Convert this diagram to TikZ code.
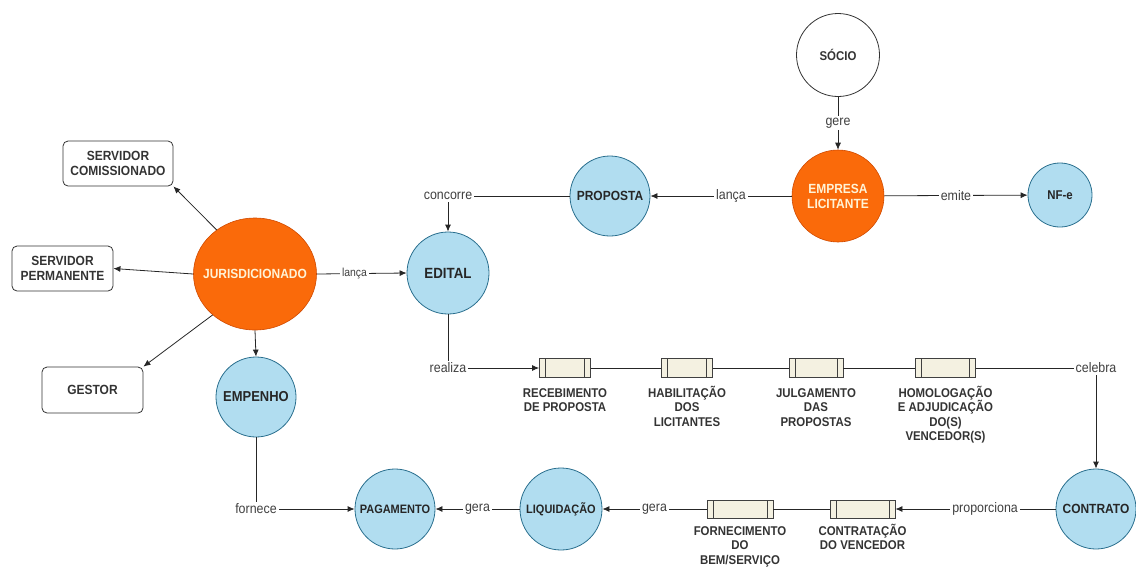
\documentclass[tikz,border=0pt]{standalone}
\usepackage{fontspec}
\setmainfont{Liberation Sans}[FakeStretch=0.9]
\usetikzlibrary{arrows.meta,shapes.geometric}
\definecolor{orangeF}{HTML}{FA6A0A}
\definecolor{orangeD}{HTML}{D04A00}
\definecolor{blueF}{HTML}{B1DDF0}
\definecolor{blueD}{HTML}{2A6F8E}
\definecolor{tapeF}{HTML}{F4F1E1}
\definecolor{cream}{HTML}{FFF3D6}
\newcommand\firstln{\rule{0pt}{12pt}}
\begin{document}
\begin{tikzpicture}[x=1pt,y=-1pt,
  bc/.style={circle, draw=blueD, fill=blueF, line width=0.8pt, minimum size=#1, inner sep=0pt,
    font=\bfseries\fontsize{13.3}{15}\selectfont, text=black!85, align=center},
  oc/.style={circle, draw=orangeD, fill=orangeF, line width=0.6pt, minimum size=#1, inner sep=0pt,
    font=\bfseries\fontsize{13.3}{15}\selectfont, text=cream, align=center},
  wbox/.style={rectangle, rounded corners=5pt, draw=black!80, line width=0.8pt, minimum width=#1,
    minimum height=45pt, inner sep=0pt, align=center, font=\bfseries\fontsize{13.3}{15}\selectfont, text=black!80},
  lbl/.style={fill=white, inner sep=2pt, font=\fontsize{13.8}{15}\selectfont, text=black!75},
  tapebox/.style={rectangle, draw=black!75, fill=tapeF, minimum width=#1, minimum height=19pt,
    inner sep=0pt, line width=0.8pt,
    path picture={
      \draw[black!75, line width=0.8pt] ([xshift=6pt]path picture bounding box.north west) -- ([xshift=6pt]path picture bounding box.south west);
      \draw[black!75, line width=0.8pt] ([xshift=-6pt]path picture bounding box.north east) -- ([xshift=-6pt]path picture bounding box.south east);
    }},
  tlab/.style={font=\bfseries\fontsize{12.7}{14.5}\selectfont, align=center, anchor=north, inner sep=0pt, text=black!80},
  arr/.style={-{Latex[length=7pt,width=6pt]}, line width=0.8pt, draw=black!85},
  ln/.style={line width=0.8pt, draw=black!85}
]
\path[use as bounding box] (0,0) rectangle (1136,566);
\clip (0,0) rectangle (1136,566);

% nodes
\node[circle, draw=black!80, fill=white, line width=0.8pt, minimum size=83pt, inner sep=0pt,
  font=\bfseries\fontsize{12.7}{14}\selectfont, text=black!80] (socio) at (838,55) {SÓCIO};
\node[oc=92pt] (empresa) at (838,196) {EMPRESA\\LICITANTE};
\node[bc=64pt, font=\bfseries\fontsize{12.7}{14}\selectfont] (nfe) at (1060,195) {NF-e};
\node[bc=80pt] (proposta) at (610,196) {PROPOSTA};
\node[bc=82pt, font=\bfseries\fontsize{14.8}{16}\selectfont] (edital) at (448,273) {EDITAL};
\node[ellipse, draw=orangeD, fill=orangeF, line width=0.6pt, minimum width=123pt, minimum height=112pt,
  inner sep=0pt, font=\bfseries\fontsize{13.3}{15}\selectfont, text=cream] (juris) at (255,274) {\makebox[0pt][c]{JURISDICIONADO}};
\node[bc=80pt, font=\bfseries\fontsize{14.4}{16}\selectfont] (empenho) at (256,397) {EMPENHO};
\node[bc=80pt, font=\bfseries\fontsize{12.2}{14}\selectfont] (pag) at (395,509) {PAGAMENTO};
\node[bc=82pt, font=\bfseries\fontsize{12.2}{14}\selectfont] (liq) at (561,509) {LIQUIDAÇÃO};
\node[bc=80pt] (contrato) at (1096,509) {CONTRATO};

\node[wbox=110pt] (sc) at (118,163.5) {SERVIDOR\\COMISSIONADO};
\node[wbox=101pt] (sp) at (62.5,268.5) {SERVIDOR\\PERMANENTE};
\node[wbox=101pt, minimum height=46pt] (gestor) at (92.5,390) {GESTOR};

% tapes
\node[tapebox=51pt] (t1) at (565,368) {};
\node[tapebox=51pt] (t2) at (687,368) {};
\node[tapebox=54pt] (t3) at (816,368) {};
\node[tapebox=60pt] (t4) at (945.5,368) {};
\node[tapebox=66pt, minimum height=18pt] (tf) at (740,509) {};
\node[tapebox=65pt, minimum height=18pt] (tc) at (862.5,509) {};

\node[tlab] (l1) at ([yshift=-7pt]t1.south) {\firstln RECEBIMENTO\\DE PROPOSTA};
\node[tlab] (l2) at ([yshift=-7pt]t2.south) {\firstln HABILITAÇÃO\\DOS\\LICITANTES};
\node[tlab] (l3) at ([yshift=-7pt]t3.south) {\firstln JULGAMENTO\\DAS\\PROPOSTAS};
\node[tlab] (l4) at ([yshift=-7pt]t4.south) {\firstln HOMOLOGAÇÃO\\E ADJUDICAÇÃO\\DO(S)\\VENCEDOR(S)};
\node[tlab] (lf) at ([yshift=-4.5pt]tf.south) {\firstln FORNECIMENTO\\DO\\BEM/SERVIÇO};
\node[tlab] (lc) at ([yshift=-4.5pt]tc.south) {\firstln CONTRATAÇÃO\\DO VENCEDOR};

% connectors
\draw[arr] (socio) -- node[lbl]{gere} (empresa);
\draw[arr] (empresa) -- node[lbl, pos=0.43]{lança} (proposta);
\draw[arr] (empresa) -- node[lbl]{emite} (nfe);
\draw[arr] (proposta.west) -| node[lbl, pos=0.5]{concorre} (edital.north);
\draw[arr] (juris.east) -- node[lbl, pos=0.42, font=\fontsize{11.6}{13}\selectfont]{lança} (edital.west);
\draw[arr] (juris.131) -- (sc.south east);
\draw[arr] (juris.west) -- (sp.east);
\draw[arr] (juris.224) -- (gestor.north east);
\draw[arr] (juris.south) -- (empenho.north);
\draw[arr] (edital.south) |- node[lbl, pos=0.5]{realiza} (t1.west);
\draw[ln] (t1.east) -- (t2.west);
\draw[ln] (t2.east) -- (t3.west);
\draw[ln] (t3.east) -- (t4.west);
\draw[arr] (t4.east) -| node[lbl, pos=0.5]{celebra} (contrato.north);
\draw[arr] (contrato.west) -- node[lbl, pos=0.44]{proporciona} (tc.east);
\draw[ln] (tc.west) -- (tf.east);
\draw[arr] (tf.west) -- node[lbl]{gera} (liq.east);
\draw[arr] (liq.west) -- node[lbl]{gera} (pag.east);
\draw[arr] (empenho.south) |- node[lbl, pos=0.5]{fornece} (pag.west);
\end{tikzpicture}
\end{document}
